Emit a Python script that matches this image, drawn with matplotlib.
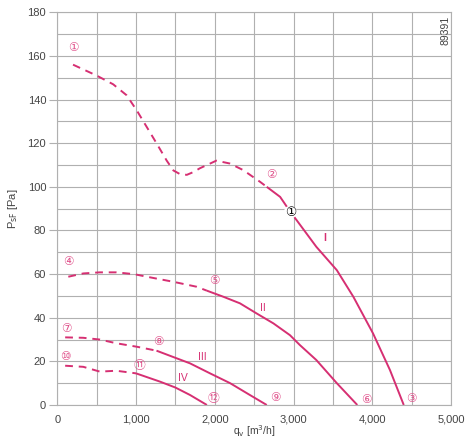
import matplotlib
matplotlib.use("Agg")
import matplotlib.pyplot as plt
from matplotlib.ticker import MultipleLocator

plt.rcParams['font.family'] = ['Liberation Sans', 'DejaVu Sans', 'Noto Sans CJK JP']

# Axis ticks
x_ticks = [0, 1000, 2000, 3000, 4000, 5000]
x_tick_labels = ["0", "1,000", "2,000", "3,000", "4,000", "5,000"]
y_ticks = [0, 20, 40, 60, 80, 100, 120, 140, 160, 180]

# Curve I
q1_dash = [200, 500, 710, 880, 1010, 1135, 1260, 1390, 1475, 1560, 1645, 1730, 1810, 2020, 2190, 2360, 2575, 2660]
p1_dash = [156, 151, 147, 142, 135, 127.5, 120, 112, 107.5, 105.8, 105.5, 106.8, 108.5, 112, 110.7, 107.7, 102.3, 100]
q1_solid = [2660, 2830, 2960, 3040, 3290, 3550, 3760, 4010, 4225, 4400]
p1_solid = [100, 95.4, 88.5, 84.7, 72.5, 61.8, 49.6, 32.8, 16, 0]

# Curve II
q2_dash = [140, 330, 540, 750, 970, 1180, 1470, 1770, 1900]
p2_dash = [58.8, 60.3, 60.8, 60.8, 60, 58.5, 56.5, 54.2, 52.4]
q2_solid = [1900, 2110, 2320, 2530, 2745, 2955, 3080, 3290, 3550, 3810]
p2_solid = [52.4, 49.6, 46.6, 42, 37.4, 32, 27.5, 20.6, 10, 0]

# Curve III
q3_dash = [100, 330, 540, 750, 1010, 1260]
p3_dash = [31, 30.8, 30, 28.3, 26.7, 24.9]
q3_solid = [1260, 1450, 1685, 1940, 2195, 2445, 2660]
p3_solid = [24.9, 22.3, 19.1, 14.5, 10, 4.6, 0]

# Curve IV
q4_dash = [100, 330, 540, 750, 1000]
p4_dash = [18, 17.5, 15.3, 15.7, 14.5]
q4_solid = [1000, 1305, 1500, 1685, 1900]
p4_solid = [14.5, 10.7, 8, 4.6, 0]

# Annotations: circled numbers
circ_labels = ["①", "②", "③", "④", "⑤", "⑥", "⑦", "⑧", "⑨", "⑩", "⑪", "⑫"]
circ_q = [200, 2715, 4500, 140, 1995, 3920, 110, 1285, 2765, 100, 1050, 1990]
circ_p = [163.7, 105.7, 3, 65.8, 57.2, 2.7, 35, 29, 3.3, 22, 18, 3]

roman_labels = ["I", "II", "III", "IV"]
roman_q = [3400, 2616, 1841, 1600]
roman_p = [76.4, 44.6, 21.9, 12.2]

op_label = "①"
op_q = 2960
op_p = 88.4

line_color = "#d62f72"
label_color = "#e0508a"
grid_color = "#b0b0b0"
text_color = "#444444"
circ_family = ['DejaVu Sans', 'Noto Sans CJK JP']

fig = plt.figure(figsize=(4.73, 4.43), dpi=100)
ax = fig.add_axes([0.1211, 0.0858, 0.8324, 0.8864])

ax.set_xticks(x_ticks)
ax.set_xticklabels(x_tick_labels)
ax.set_yticks(y_ticks)
ax.xaxis.set_minor_locator(MultipleLocator(500))
ax.yaxis.set_minor_locator(MultipleLocator(10))
ax.set_xlim(0, 5000)
ax.set_ylim(0, 180)
ax.grid(True, which="both", color=grid_color, linewidth=0.8)
ax.set_axisbelow(True)
for s in ax.spines.values():
    s.set_color(grid_color)
    s.set_linewidth(0.8)

ax.tick_params(axis="y", which="major", length=6, color=grid_color, labelsize=8,
               labelcolor=text_color, pad=2)
ax.tick_params(axis="x", which="major", length=0, labelsize=8, labelcolor=text_color, pad=7)
ax.tick_params(which="minor", length=0)

lw = 1.4
dash = (0, (4, 3))
for qd, pd_, qs, ps in [(q1_dash, p1_dash, q1_solid, p1_solid),
                         (q2_dash, p2_dash, q2_solid, p2_solid),
                         (q3_dash, p3_dash, q3_solid, p3_solid),
                         (q4_dash, p4_dash, q4_solid, p4_solid)]:
    ax.plot(qd, pd_, color=line_color, lw=lw, linestyle=dash)
    ax.plot(qs, ps, color=line_color, lw=lw, solid_capstyle="butt")

for t, q, p in zip(circ_labels, circ_q, circ_p):
    ax.text(q, p, t, color=label_color, fontsize=8.5, ha="center", va="center",
            family=circ_family)

for t, q, p in zip(roman_labels, roman_q, roman_p):
    ax.text(q, p, t, color=line_color, fontsize=7.5, ha="center", va="center",
            fontweight="bold" if t == "I" else "normal")

ax.text(op_q, op_p, op_label, color="black", fontsize=9, ha="center", va="center",
        family=circ_family,
        bbox=dict(boxstyle="circle,pad=0.0", fc="white", ec="none"))

ax.text(0.985, 0.99, "89391", rotation=90, transform=ax.transAxes, ha="center", va="top",
        fontsize=7.5, color=text_color)

ax.set_ylabel(r"P$_{\rm sF}$ [Pa]", fontsize=8, color=text_color)
ax.yaxis.set_label_coords(-0.095, 0.5)
ax.set_xlabel(r"q$_{\rm v}$ [m$^3$/h]", fontsize=7.5, color=text_color)
ax.xaxis.set_label_coords(0.5, -0.047)

fig.savefig("out.png", dpi=100)
